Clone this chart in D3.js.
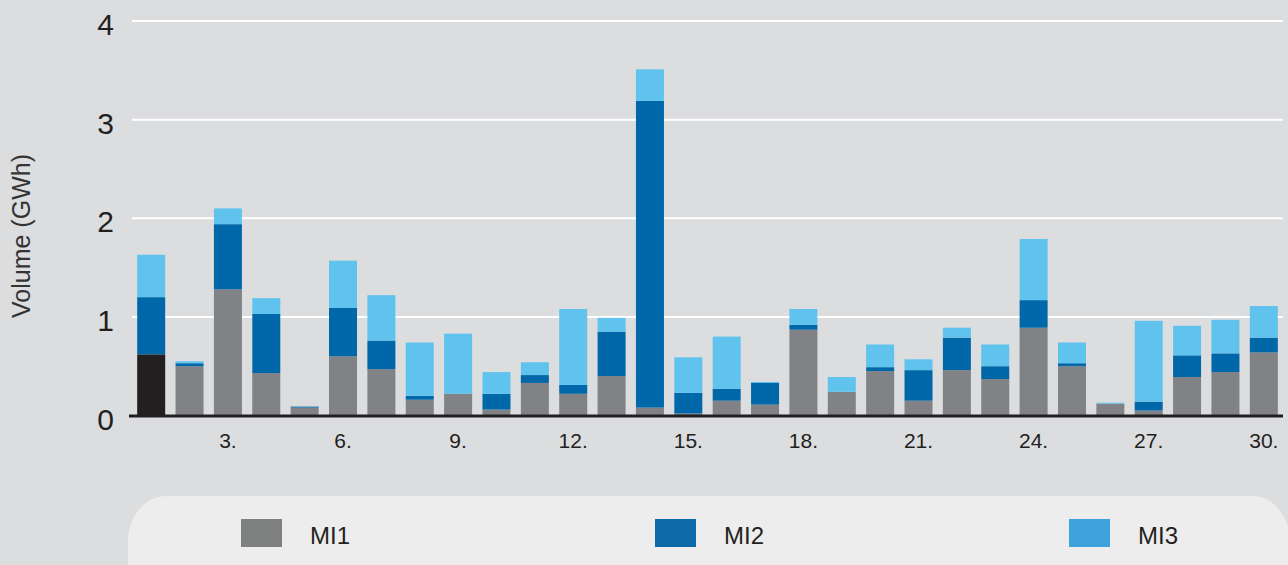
<!DOCTYPE html>
<html>
<head>
<meta charset="utf-8">
<script src="https://cdn.jsdelivr.net/npm/d3@7"></script>
<style>
  html, body { margin: 0; padding: 0; background: #dcdddf; }
  svg { display: block; font-family: "Liberation Sans", Arial, sans-serif; }
</style>
</head>
<body>
<script>
var days = d3.range(1, 31);
var seriesNames = ['MI1', 'MI2', 'MI3'];
var mi1 = [0.62, 0.50, 1.28, 0.43, 0.08, 0.60, 0.47, 0.16, 0.22, 0.06,
           0.33, 0.22, 0.40, 0.08, 0.02, 0.15, 0.11, 0.87, 0.24, 0.45,
           0.15, 0.46, 0.37, 0.89, 0.50, 0.12, 0.05, 0.39, 0.44, 0.64];
var mi2 = [0.58, 0.03, 0.66, 0.60, 0.01, 0.49, 0.29, 0.04, 0.00, 0.16,
           0.08, 0.09, 0.45, 3.11, 0.21, 0.12, 0.22, 0.05, 0.00, 0.04,
           0.31, 0.33, 0.13, 0.28, 0.03, 0.00, 0.09, 0.22, 0.19, 0.15];
var mi3 = [0.43, 0.02, 0.16, 0.16, 0.00, 0.48, 0.46, 0.54, 0.61, 0.22,
           0.13, 0.77, 0.14, 0.32, 0.36, 0.53, 0.01, 0.16, 0.15, 0.23,
           0.11, 0.10, 0.22, 0.62, 0.21, 0.01, 0.82, 0.30, 0.34, 0.32];
var yTicks = [0, 1, 2, 3, 4];
var xTickDays = [3, 6, 9, 12, 15, 18, 21, 24, 27, 30];

var barColors = ['#818286', '#0068a9', '#5fc3ee'];
var legendColors = ['#7f8180', '#0f6aab', '#3ea3dc'];
var highlightColor = '#231f20';

var W = 1288, H = 565;
var svg = d3.select('body').append('svg')
  .attr('width', W)
  .attr('height', H);

svg.append('rect')
  .attr('width', W).attr('height', H)
  .attr('fill', '#dcdddf');

var xScale = d3.scaleBand()
  .domain(days)
  .range([132, 1283])
  .paddingInner(0.27)
  .paddingOuter(0.135);

var yScale = d3.scaleLinear()
  .domain([0, 4])
  .range([415.5, 21]);

var table = days.map(function(d, i) {
  return { day: d, MI1: mi1[i], MI2: mi2[i], MI3: mi3[i] };
});
var stacked = d3.stack().keys(seriesNames)(table);

// grid lines
svg.append('g')
  .selectAll('line')
  .data(yTicks.filter(function(t) { return t > 0; }))
  .join('line')
  .attr('x1', 132).attr('x2', 1283)
  .attr('y1', function(d) { return yScale(d); })
  .attr('y2', function(d) { return yScale(d); })
  .attr('stroke', '#ffffff')
  .attr('stroke-width', 2);

// y tick labels
svg.append('g')
  .selectAll('text')
  .data(yTicks)
  .join('text')
  .attr('x', 114)
  .attr('y', function(d) { return yScale(d) + 14; })
  .attr('text-anchor', 'end')
  .attr('font-size', 30)
  .attr('fill', '#231f20')
  .text(function(d) { return d; });

// y title
svg.append('text')
  .attr('transform', 'translate(30, 236) rotate(-90)')
  .attr('text-anchor', 'middle')
  .attr('font-size', 25)
  .attr('fill', '#333333')
  .text('Volume (GWh)');

// bars
svg.append('g')
  .selectAll('g')
  .data(stacked)
  .join('g')
  .each(function(layer, li) {
    d3.select(this).selectAll('rect')
      .data(layer)
      .join('rect')
      .attr('x', function(d) { return xScale(d.data.day); })
      .attr('width', xScale.bandwidth())
      .attr('y', function(d) { return yScale(d[1]); })
      .attr('height', function(d) { return yScale(d[0]) - yScale(d[1]); })
      .attr('fill', function(d, i) {
        return (li === 0 && i === 0) ? highlightColor : barColors[li];
      });
  });

// baseline
svg.append('line')
  .attr('x1', 129).attr('x2', 1283)
  .attr('y1', yScale(0) + 0.5).attr('y2', yScale(0) + 0.5)
  .attr('stroke', '#231f20')
  .attr('stroke-width', 3);

// x tick labels
svg.append('g')
  .selectAll('text')
  .data(xTickDays)
  .join('text')
  .attr('x', function(d) { return xScale(d) + xScale.bandwidth() / 2; })
  .attr('y', 448)
  .attr('text-anchor', 'middle')
  .attr('font-size', 21)
  .attr('fill', '#231f20')
  .text(function(d) { return d + '.'; });

// legend panel
svg.append('rect')
  .attr('x', 128).attr('y', 496)
  .attr('width', 1162).attr('height', 140)
  .attr('rx', 38).attr('ry', 45)
  .attr('fill', '#ededed');

var legend = svg.append('g')
  .selectAll('g')
  .data(seriesNames)
  .join('g')
  .attr('transform', function(d, i) { return 'translate(' + (241 + i * 414) + ', 519)'; });

legend.append('rect')
  .attr('width', 41).attr('height', 28)
  .attr('fill', function(d, i) { return legendColors[i]; });

legend.append('text')
  .attr('x', 69).attr('y', 25)
  .attr('font-size', 24)
  .attr('fill', '#231f20')
  .text(function(d) { return d; });
</script>
</body>
</html>
